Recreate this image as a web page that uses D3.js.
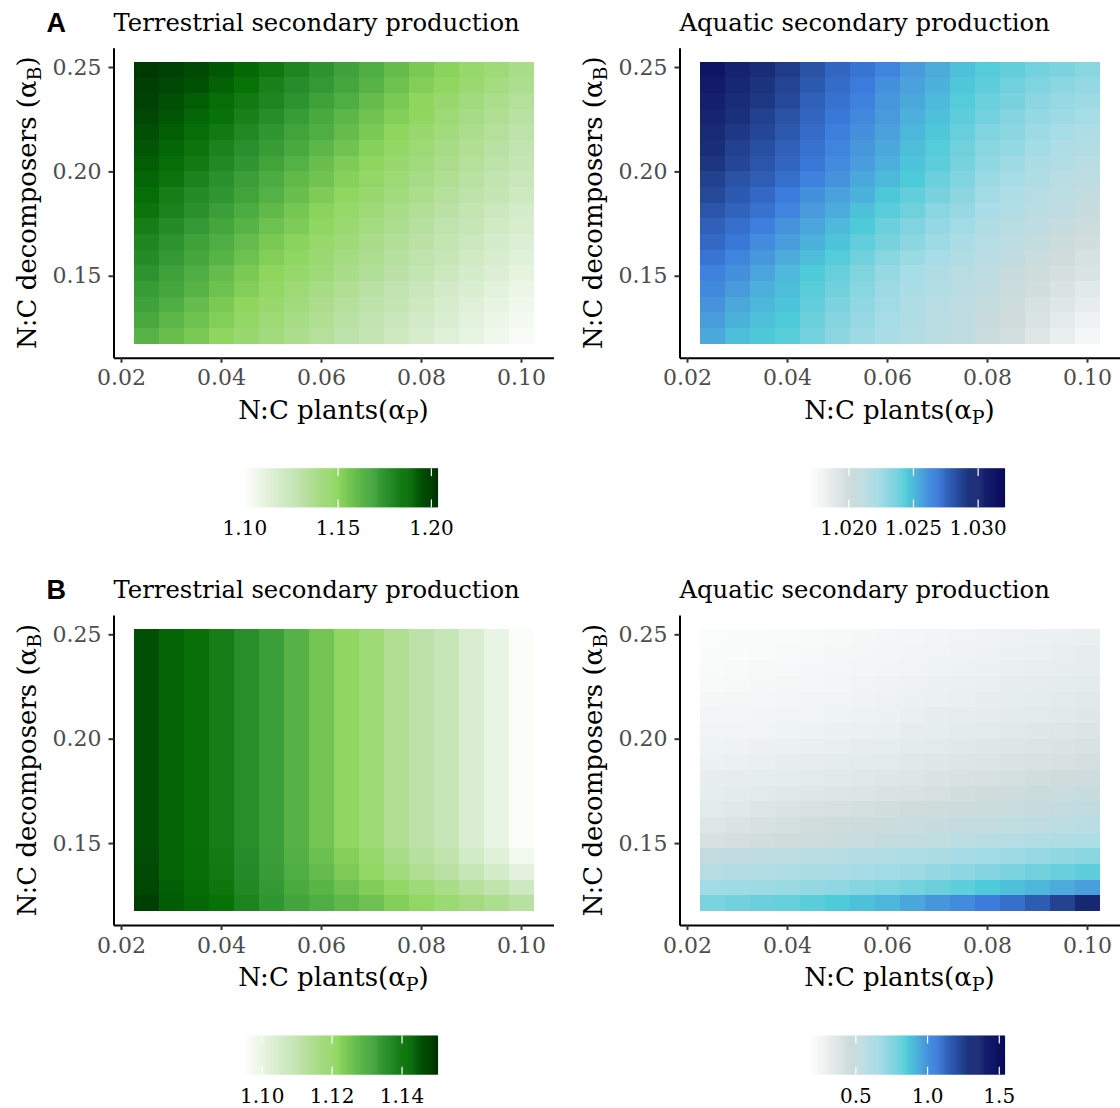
<!DOCTYPE html>
<html>
<head>
<meta charset="utf-8">
<script src="https://cdn.jsdelivr.net/npm/d3@7"></script>
<style>
  body { margin: 0; background: #fff; }
</style>
</head>
<body>
<div id="chart"></div>
<script>
// grid: N:C plants (columns) and N:C decomposers (rows, top -> bottom)
var alphaP = [0.025, 0.030, 0.035, 0.040, 0.045, 0.050, 0.055, 0.060, 0.065, 0.070, 0.075, 0.080, 0.085, 0.090, 0.095, 0.100];
var alphaB = [0.24875, 0.24125, 0.23375, 0.22625, 0.21875, 0.21125, 0.20375, 0.19625, 0.18875,
              0.18125, 0.17375, 0.16625, 0.15875, 0.15125, 0.14375, 0.13625, 0.12875, 0.12125];

// A - terrestrial secondary production
var terrA = [
  [1.201,1.199,1.197,1.193,1.189,1.185,1.180,1.175,1.170,1.165,1.160,1.155,1.151,1.147,1.143,1.139],
  [1.200,1.198,1.195,1.191,1.187,1.182,1.177,1.173,1.168,1.163,1.158,1.153,1.149,1.145,1.141,1.137],
  [1.199,1.196,1.192,1.188,1.184,1.180,1.175,1.170,1.165,1.160,1.155,1.150,1.146,1.142,1.138,1.134],
  [1.198,1.194,1.190,1.187,1.182,1.177,1.172,1.167,1.162,1.157,1.153,1.149,1.144,1.140,1.136,1.132],
  [1.196,1.192,1.188,1.184,1.179,1.174,1.169,1.165,1.160,1.155,1.150,1.146,1.142,1.138,1.134,1.130],
  [1.194,1.190,1.186,1.181,1.176,1.172,1.167,1.162,1.157,1.152,1.148,1.144,1.140,1.136,1.132,1.128],
  [1.192,1.188,1.184,1.179,1.174,1.169,1.164,1.159,1.154,1.150,1.146,1.142,1.138,1.134,1.130,1.126],
  [1.190,1.186,1.181,1.176,1.171,1.166,1.161,1.157,1.152,1.148,1.144,1.140,1.136,1.132,1.128,1.124],
  [1.188,1.183,1.178,1.174,1.169,1.164,1.159,1.154,1.149,1.146,1.142,1.138,1.134,1.130,1.126,1.122],
  [1.186,1.181,1.176,1.171,1.166,1.161,1.156,1.151,1.147,1.143,1.139,1.135,1.131,1.127,1.123,1.119],
  [1.183,1.178,1.173,1.168,1.163,1.158,1.154,1.149,1.145,1.141,1.137,1.133,1.129,1.125,1.121,1.117],
  [1.180,1.175,1.170,1.165,1.160,1.155,1.151,1.147,1.143,1.139,1.135,1.131,1.127,1.123,1.119,1.115],
  [1.178,1.173,1.168,1.163,1.158,1.153,1.149,1.145,1.141,1.137,1.133,1.129,1.125,1.121,1.117,1.113],
  [1.175,1.170,1.165,1.160,1.155,1.150,1.147,1.143,1.139,1.135,1.131,1.127,1.123,1.119,1.115,1.111],
  [1.172,1.168,1.163,1.158,1.153,1.148,1.144,1.140,1.136,1.132,1.128,1.124,1.120,1.116,1.112,1.108],
  [1.170,1.165,1.160,1.155,1.150,1.146,1.142,1.138,1.134,1.130,1.126,1.122,1.118,1.114,1.110,1.106],
  [1.167,1.162,1.158,1.153,1.148,1.144,1.140,1.136,1.132,1.128,1.124,1.120,1.116,1.112,1.108,1.104],
  [1.163,1.159,1.155,1.150,1.146,1.142,1.138,1.134,1.130,1.126,1.122,1.118,1.114,1.110,1.106,1.102]
];

// A - aquatic secondary production
var aquaA = [
  [1.0313,1.0304,1.0296,1.0290,1.0282,1.0275,1.0270,1.0265,1.0259,1.0254,1.0248,1.0244,1.0241,1.0237,1.0235,1.0232],
  [1.0309,1.0300,1.0293,1.0287,1.0279,1.0273,1.0268,1.0262,1.0257,1.0252,1.0246,1.0242,1.0238,1.0234,1.0231,1.0229],
  [1.0305,1.0297,1.0291,1.0285,1.0277,1.0271,1.0266,1.0260,1.0255,1.0250,1.0244,1.0239,1.0236,1.0231,1.0228,1.0226],
  [1.0302,1.0294,1.0288,1.0282,1.0275,1.0269,1.0264,1.0259,1.0253,1.0248,1.0242,1.0237,1.0233,1.0229,1.0226,1.0223],
  [1.0298,1.0291,1.0286,1.0280,1.0273,1.0267,1.0262,1.0257,1.0251,1.0246,1.0240,1.0234,1.0231,1.0226,1.0223,1.0220],
  [1.0295,1.0288,1.0283,1.0277,1.0271,1.0265,1.0260,1.0255,1.0249,1.0244,1.0238,1.0232,1.0229,1.0224,1.0220,1.0217],
  [1.0292,1.0286,1.0281,1.0275,1.0269,1.0263,1.0258,1.0253,1.0247,1.0242,1.0236,1.0230,1.0226,1.0221,1.0217,1.0214],
  [1.0288,1.0282,1.0278,1.0272,1.0266,1.0261,1.0255,1.0250,1.0245,1.0239,1.0234,1.0227,1.0223,1.0219,1.0214,1.0211],
  [1.0285,1.0279,1.0274,1.0268,1.0262,1.0257,1.0252,1.0246,1.0241,1.0236,1.0231,1.0224,1.0220,1.0216,1.0212,1.0208],
  [1.0281,1.0276,1.0271,1.0265,1.0259,1.0254,1.0248,1.0243,1.0238,1.0232,1.0228,1.0222,1.0217,1.0213,1.0209,1.0205],
  [1.0277,1.0272,1.0267,1.0261,1.0256,1.0250,1.0245,1.0239,1.0234,1.0229,1.0225,1.0219,1.0215,1.0210,1.0206,1.0202],
  [1.0274,1.0269,1.0263,1.0258,1.0252,1.0247,1.0241,1.0236,1.0231,1.0226,1.0222,1.0216,1.0212,1.0207,1.0203,1.0199],
  [1.0270,1.0265,1.0260,1.0254,1.0249,1.0244,1.0238,1.0232,1.0227,1.0223,1.0219,1.0214,1.0209,1.0204,1.0200,1.0196],
  [1.0266,1.0262,1.0256,1.0250,1.0245,1.0240,1.0234,1.0228,1.0223,1.0219,1.0215,1.0211,1.0205,1.0201,1.0197,1.0193],
  [1.0264,1.0259,1.0253,1.0249,1.0243,1.0238,1.0232,1.0226,1.0222,1.0218,1.0214,1.0209,1.0204,1.0199,1.0194,1.0189],
  [1.0261,1.0255,1.0251,1.0247,1.0241,1.0235,1.0230,1.0225,1.0220,1.0216,1.0212,1.0207,1.0202,1.0196,1.0191,1.0185],
  [1.0258,1.0252,1.0248,1.0245,1.0239,1.0233,1.0228,1.0223,1.0219,1.0214,1.0210,1.0205,1.0200,1.0194,1.0187,1.0181],
  [1.0255,1.0249,1.0246,1.0243,1.0237,1.0231,1.0226,1.0222,1.0217,1.0213,1.0209,1.0203,1.0198,1.0191,1.0184,1.0177]
];

// B - terrestrial secondary production
var terrB = [
  [1.1461,1.1431,1.1417,1.1395,1.1361,1.1328,1.1289,1.1253,1.1213,1.1184,1.1142,1.1112,1.1084,1.1037,1.0998,1.0956],
  [1.1461,1.1431,1.1417,1.1395,1.1361,1.1328,1.1289,1.1253,1.1213,1.1184,1.1142,1.1112,1.1084,1.1037,1.0998,1.0956],
  [1.1461,1.1431,1.1417,1.1395,1.1361,1.1328,1.1289,1.1253,1.1213,1.1184,1.1142,1.1112,1.1084,1.1037,1.0998,1.0956],
  [1.1461,1.1431,1.1417,1.1395,1.1361,1.1328,1.1289,1.1253,1.1213,1.1184,1.1142,1.1112,1.1084,1.1037,1.0998,1.0956],
  [1.1461,1.1431,1.1417,1.1395,1.1361,1.1328,1.1289,1.1253,1.1213,1.1184,1.1142,1.1112,1.1084,1.1037,1.0998,1.0956],
  [1.1461,1.1431,1.1417,1.1395,1.1361,1.1328,1.1289,1.1253,1.1213,1.1184,1.1142,1.1112,1.1084,1.1037,1.0998,1.0956],
  [1.1461,1.1431,1.1417,1.1395,1.1361,1.1328,1.1289,1.1253,1.1213,1.1184,1.1142,1.1112,1.1084,1.1037,1.0998,1.0956],
  [1.1461,1.1431,1.1417,1.1395,1.1361,1.1328,1.1289,1.1253,1.1213,1.1184,1.1142,1.1112,1.1084,1.1037,1.0998,1.0956],
  [1.1461,1.1431,1.1417,1.1395,1.1361,1.1328,1.1289,1.1253,1.1213,1.1184,1.1142,1.1112,1.1084,1.1037,1.0998,1.0956],
  [1.1461,1.1431,1.1417,1.1395,1.1361,1.1328,1.1289,1.1253,1.1213,1.1184,1.1142,1.1112,1.1084,1.1037,1.0998,1.0956],
  [1.1461,1.1431,1.1417,1.1395,1.1361,1.1328,1.1289,1.1253,1.1213,1.1184,1.1142,1.1112,1.1084,1.1037,1.0998,1.0956],
  [1.1461,1.1431,1.1417,1.1395,1.1361,1.1328,1.1289,1.1253,1.1213,1.1184,1.1142,1.1112,1.1084,1.1037,1.0998,1.0956],
  [1.1461,1.1431,1.1417,1.1395,1.1361,1.1328,1.1289,1.1253,1.1213,1.1184,1.1142,1.1112,1.1084,1.1037,1.0998,1.0956],
  [1.1461,1.1431,1.1417,1.1395,1.1361,1.1328,1.1289,1.1253,1.1213,1.1184,1.1142,1.1112,1.1084,1.1037,1.0998,1.0956],
  [1.1464,1.1432,1.1418,1.1397,1.1364,1.1331,1.1293,1.1261,1.1228,1.1195,1.1156,1.1128,1.1100,1.1056,1.1020,1.0978],
  [1.1467,1.1433,1.1420,1.1400,1.1367,1.1334,1.1297,1.1270,1.1239,1.1209,1.1173,1.1145,1.1120,1.1084,1.1050,1.1012],
  [1.1472,1.1439,1.1422,1.1406,1.1372,1.1339,1.1306,1.1284,1.1259,1.1234,1.1206,1.1181,1.1159,1.1128,1.1100,1.1067],
  [1.1483,1.1445,1.1428,1.1414,1.1381,1.1345,1.1317,1.1297,1.1278,1.1259,1.1231,1.1210,1.1189,1.1170,1.1150,1.1123]
];

// B - aquatic secondary production
var aquaB = [
  [0.204,0.207,0.211,0.215,0.221,0.226,0.233,0.240,0.246,0.253,0.261,0.269,0.277,0.286,0.294,0.302],
  [0.207,0.211,0.215,0.221,0.226,0.233,0.240,0.248,0.254,0.263,0.271,0.279,0.287,0.295,0.304,0.315],
  [0.214,0.218,0.223,0.229,0.235,0.242,0.250,0.258,0.267,0.275,0.283,0.291,0.299,0.306,0.314,0.322],
  [0.221,0.226,0.231,0.238,0.245,0.252,0.261,0.269,0.277,0.286,0.294,0.302,0.310,0.318,0.326,0.336],
  [0.234,0.238,0.244,0.250,0.257,0.264,0.271,0.277,0.288,0.295,0.302,0.311,0.321,0.329,0.338,0.349],
  [0.248,0.250,0.254,0.261,0.268,0.275,0.281,0.288,0.302,0.309,0.315,0.325,0.334,0.342,0.352,0.363],
  [0.261,0.264,0.268,0.275,0.281,0.288,0.295,0.302,0.315,0.322,0.332,0.342,0.352,0.363,0.372,0.383],
  [0.275,0.279,0.284,0.291,0.298,0.306,0.315,0.322,0.336,0.342,0.356,0.363,0.376,0.383,0.392,0.403],
  [0.288,0.295,0.302,0.309,0.315,0.329,0.336,0.342,0.356,0.363,0.376,0.383,0.397,0.403,0.410,0.424],
  [0.309,0.315,0.322,0.329,0.342,0.349,0.356,0.369,0.376,0.390,0.403,0.417,0.430,0.437,0.451,0.464],
  [0.322,0.336,0.342,0.356,0.369,0.376,0.383,0.397,0.403,0.417,0.437,0.451,0.464,0.478,0.491,0.505],
  [0.342,0.356,0.376,0.390,0.403,0.417,0.430,0.437,0.451,0.457,0.471,0.478,0.491,0.505,0.518,0.532],
  [0.369,0.390,0.410,0.430,0.444,0.457,0.471,0.478,0.491,0.505,0.518,0.525,0.539,0.545,0.559,0.572],
  [0.410,0.424,0.437,0.451,0.464,0.478,0.491,0.512,0.525,0.539,0.559,0.579,0.593,0.606,0.620,0.633],
  [0.518,0.532,0.545,0.559,0.572,0.586,0.599,0.613,0.627,0.640,0.660,0.674,0.687,0.701,0.714,0.735],
  [0.586,0.599,0.613,0.627,0.640,0.647,0.660,0.674,0.687,0.708,0.728,0.748,0.769,0.789,0.809,0.829],
  [0.674,0.681,0.687,0.694,0.708,0.721,0.742,0.762,0.782,0.802,0.829,0.857,0.884,0.911,0.938,0.972],
  [0.769,0.789,0.802,0.816,0.835,0.857,0.884,0.911,0.951,0.992,1.026,1.062,1.100,1.160,1.240,1.350]
];

// colour-bar limits and breaks
var terrALim = [1.099, 1.203], terrABreaks = [1.10, 1.15, 1.20];
var aquaALim = [1.017, 1.032], aquaABreaks = [1.020, 1.025, 1.030];
var terrBLim = [1.0945, 1.150], terrBBreaks = [1.10, 1.12, 1.14];
var aquaBLim = [0.18, 1.533],   aquaBBreaks = [0.5, 1.0, 1.5];

var xTicks = [0.02, 0.04, 0.06, 0.08, 0.10];
var yTicks = [0.15, 0.20, 0.25];

// palettes (position along the colour bar -> colour)
var greenPos = [0, 0.154, 0.298, 0.49, 0.635, 0.731, 0.846, 1];
var greenCols = ["#ffffff", "#dcefd4", "#bde2aa", "#8ed65e", "#4fae43", "#2c9330", "#077206", "#003300"];
var bluePos = [0, 0.2, 0.35, 0.5, 0.65, 0.83, 1];
var blueCols = ["#ffffff", "#d0dcdc", "#a9dde6", "#4ecbd9", "#3b7ddd", "#1a2f78", "#080a5e"];

var serif = "'DejaVu Serif', serif";
var plotW = 440, plotH = 310;

var svg = d3.select("#chart").append("svg")
  .attr("width", 1120)
  .attr("height", 1108)
  .style("font-family", serif);

// tiles span +-half a step, axes get ggplot's 5% expansion
var dx = alphaP[1] - alphaP[0];
var dy = alphaB[0] - alphaB[1];
var xExt = [alphaP[0] - dx / 2, alphaP[alphaP.length - 1] + dx / 2];
var yExt = [alphaB[alphaB.length - 1] - dy / 2, alphaB[0] + dy / 2];
var xPad = (xExt[1] - xExt[0]) * 0.05, yPad = (yExt[1] - yExt[0]) * 0.05;

var x = d3.scaleLinear().domain([xExt[0] - xPad, xExt[1] + xPad]).range([0, plotW]);
var y = d3.scaleLinear().domain([yExt[0] - yPad, yExt[1] + yPad]).range([plotH, 0]);

function makeColor(lim, pos, cols) {
  return d3.scaleLinear()
    .domain(pos.map(p => lim[0] + p * (lim[1] - lim[0])))
    .range(cols)
    .interpolate(d3.interpolateLab)
    .clamp(true);
}

var panels = [
  {vals: terrA, lim: terrALim, breaks: terrABreaks, fmt: ".2f", pos: greenPos, cols: greenCols,
   title: "Terrestrial secondary production", tag: "A", left: 113.5, top: 47.7, legX: 243},
  {vals: aquaA, lim: aquaALim, breaks: aquaABreaks, fmt: ".3f", pos: bluePos, cols: blueCols,
   title: "Aquatic secondary production", tag: null, left: 679.5, top: 47.7, legX: 810},
  {vals: terrB, lim: terrBLim, breaks: terrBBreaks, fmt: ".2f", pos: greenPos, cols: greenCols,
   title: "Terrestrial secondary production", tag: "B", left: 113.5, top: 615, legX: 243},
  {vals: aquaB, lim: aquaBLim, breaks: aquaBBreaks, fmt: ".1f", pos: bluePos, cols: blueCols,
   title: "Aquatic secondary production", tag: null, left: 679.5, top: 615, legX: 810}
];

function axisTitle(g, tx, ty, rotate, main, sub, tail) {
  var t = g.append("text")
    .attr("transform", "translate(" + tx + "," + ty + ")" + (rotate ? " rotate(-90)" : ""))
    .attr("text-anchor", "middle")
    .attr("font-size", 26)
    .attr("fill", "#000");
  t.append("tspan").text(main);
  t.append("tspan").attr("font-size", 19).attr("dy", 5).text(sub);
  t.append("tspan").attr("dy", -5).text(tail);
}

panels.forEach(function(p) {
  var color = makeColor(p.lim, p.pos, p.cols);
  var g = svg.append("g").attr("transform", "translate(" + p.left + "," + p.top + ")");

  // tiles
  var cells = [];
  p.vals.forEach(function(row, i) {
    row.forEach(function(v, j) {
      cells.push({ap: alphaP[j], ab: alphaB[i], v: v});
    });
  });
  g.append("g").selectAll("rect")
    .data(cells)
    .enter()
    .append("rect")
    .attr("x", d => x(d.ap - dx / 2))
    .attr("y", d => y(d.ab + dy / 2))
    .attr("width", d => x(d.ap + dx / 2) - x(d.ap - dx / 2))
    .attr("height", d => y(d.ab - dy / 2) - y(d.ab + dy / 2))
    .attr("fill", d => color(d.v))
    .attr("shape-rendering", "crispEdges");

  // axes
  var ax = g.append("g").attr("transform", "translate(0," + plotH + ")")
    .call(d3.axisBottom(x).tickValues(xTicks).tickFormat(d3.format(".2f")).tickSize(5).tickSizeOuter(0).tickPadding(7));
  var ay = g.append("g")
    .call(d3.axisLeft(y).tickValues(yTicks).tickFormat(d3.format(".2f")).tickSize(5).tickSizeOuter(0).tickPadding(7));
  [ax, ay].forEach(function(a) {
    a.select(".domain").attr("stroke", "#000").attr("stroke-width", 2);
    a.selectAll(".tick line").attr("stroke", "#333").attr("stroke-width", 2);
    a.selectAll(".tick text").attr("fill", "#4d4d4d").attr("font-size", 22).attr("font-family", serif);
  });

  axisTitle(g, plotW / 2, plotH + 61, false, "N:C plants(\u03b1", "P", ")");
  axisTitle(g, -77.5, plotH / 2, true, "N:C decomposers (\u03b1", "B", ")");

  // title and tag
  g.append("text")
    .attr("x", 0)
    .attr("y", -17)
    .attr("font-size", 24.3)
    .attr("fill", "#000")
    .text(p.title);
  if (p.tag) {
    g.append("text")
      .attr("x", -67)
      .attr("y", -16)
      .attr("font-family", "'Liberation Sans', Arial, sans-serif")
      .attr("font-weight", "bold")
      .attr("font-size", 27)
      .attr("fill", "#000")
      .text(p.tag);
  }

  // colour bar
  var barW = 194, barH = 39;
  var lg = svg.append("g").attr("transform", "translate(" + p.legX + "," + (p.top + 420.6) + ")");
  var lx = d3.scaleLinear().domain(p.lim).range([0, barW]);
  var steps = d3.range(0, 200).map(k => p.lim[0] + (k / 199) * (p.lim[1] - p.lim[0]));
  lg.selectAll("rect")
    .data(steps)
    .enter()
    .append("rect")
    .attr("x", d => lx(d) - barW / 400)
    .attr("y", 0)
    .attr("width", barW / 200 + 0.6)
    .attr("height", barH)
    .attr("fill", d => color(d));
  p.breaks.forEach(function(b) {
    lg.append("line").attr("x1", lx(b)).attr("x2", lx(b)).attr("y1", 0).attr("y2", barH / 5)
      .attr("stroke", "#fff").attr("stroke-width", 1.2);
    lg.append("line").attr("x1", lx(b)).attr("x2", lx(b)).attr("y1", barH - barH / 5).attr("y2", barH)
      .attr("stroke", "#fff").attr("stroke-width", 1.2);
    lg.append("text")
      .attr("x", lx(b))
      .attr("y", barH + 28)
      .attr("text-anchor", "middle")
      .attr("font-size", 20)
      .attr("fill", "#000")
      .text(d3.format(p.fmt)(b));
  });
});
</script>
</body>
</html>
